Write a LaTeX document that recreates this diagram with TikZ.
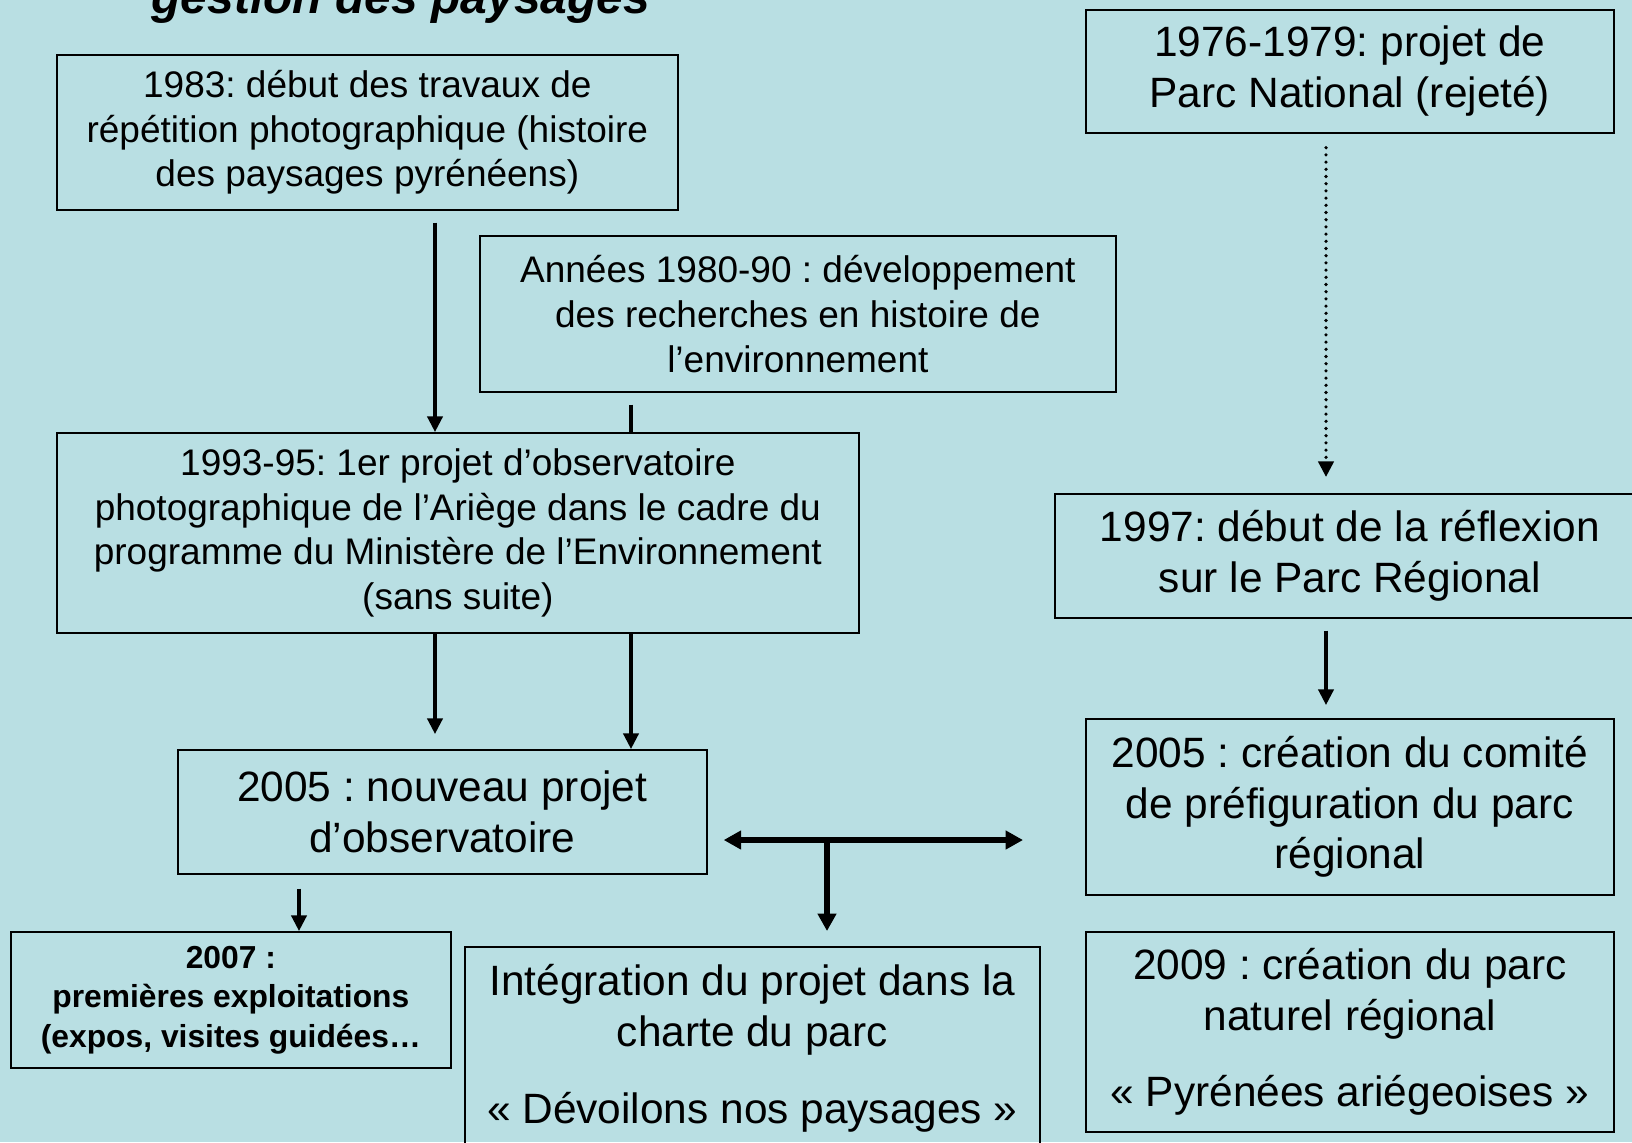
\documentclass[tikz,border=0pt]{standalone}
\usepackage{fontspec}
\setmainfont{Liberation Sans}
\usetikzlibrary{arrows.meta}
\definecolor{fond}{RGB}{185,223,227}
\frenchspacing

\tikzset{
  boite/.style={draw, line width=0.85pt, inner sep=0pt, align=center, anchor=north west},
  petit/.style={font=\fontsize{18.5}{22.4}\selectfont},
  grand/.style={font=\fontsize{21.2}{25.4}\selectfont},
  gras/.style={font=\fontsize{15.9}{19.75}\selectfont\bfseries},
  fl/.style={-{Triangle[width=7.6pt,length=7.8pt]}, line width=1.65pt},
  flgros/.style={line width=3.3pt},
  tete/.tip={Triangle[width=9pt,length=8.7pt]},
}

\begin{document}
\begin{tikzpicture}[x=0.5pt,y=-0.5pt]
\clip (0,0) rectangle (1632,1142);
\fill[fond] (0,0) rectangle (1632,1142);

% titre (coupe en haut)
\node[font=\fontsize{24}{28}\selectfont\bfseries\itshape, anchor=base west, inner sep=0pt] (titre) at (151,13) {gestion des paysages};

% colonne de gauche
\node[boite, petit, minimum width=310.5pt, minimum height=77.5pt] (A) at (56,54)
  {1983: d\'ebut des travaux de\\r\'ep\'etition photographique (histoire\\des paysages pyr\'en\'eens)};
\node[boite, petit, minimum width=318pt, minimum height=78pt] (B) at (479,235)
  {Ann\'ees 1980-90 : d\'eveloppement\\des recherches en histoire de\\l’environnement};
\node[boite, petit, minimum width=401pt, minimum height=100pt] (C) at (56,432)
  {1993-95: 1er projet d’observatoire\\photographique de l’Ari\`ege dans le cadre du\\programme du Minist\`ere de l’Environnement\\(sans suite)};
\node[boite, grand, minimum width=264.5pt, minimum height=62pt] (D) at (177,749)
  {2005 : nouveau projet\\d’observatoire};
\node[boite, gras, minimum width=220pt, minimum height=68pt] (E) at (10,931)
  {2007 :\\premi\`eres exploitations\\(expos, visites guid\'ees…};
\node[boite, grand, minimum width=287.5pt, minimum height=101.5pt] (F) at (464,946)
  {Int\'egration du projet dans la\\charte du parc\\[13pt]« D\'evoilons nos paysages »};

% colonne de droite
\node[boite, grand, minimum width=264pt, minimum height=61.5pt] (G) at (1085,9)
  {1976-1979: projet de\\Parc National (rejet\'e)};
\node[boite, grand, minimum width=295pt, minimum height=62pt] (H) at (1054,493)
  {1997: d\'ebut de la r\'eflexion\\sur le Parc R\'egional};
\node[boite, grand, minimum width=264pt, minimum height=88pt] (I) at (1085,718)
  {2005 : cr\'eation du comit\'e\\de pr\'efiguration du parc\\r\'egional};
\node[boite, grand, minimum width=264pt, minimum height=100pt] (J) at (1085,931)
  {2009 : cr\'eation du parc\\naturel r\'egional\\[13pt]« Pyr\'en\'ees ari\'egeoises »};

% reperes des fleches
\coordinate (xa) at (435,0);
\coordinate (xb) at (631,0);
\coordinate (xe) at (299,0);
\coordinate (xt) at (827,0);
\coordinate (xg) at (1326,0);
\coordinate (yt) at (0,840);

\draw[fl, shorten <=6pt] (xa |- A.south) -- (xa |- C.north);
\draw[line width=1.65pt, shorten <=6pt] (xb |- B.south) -- (xb |- C.north);
\draw[fl, shorten >=7.5pt] (xa |- C.south) -- (xa |- D.north);
\draw[fl] (xb |- C.south) -- (xb |- D.north);
\draw[fl, shorten <=7pt] (xe |- D.south) -- (xe |- E.north);

\draw[flgros, tete-tete, shorten <=8pt, shorten >=31pt] (D.east |- yt) -- (I.west |- yt);
\draw[flgros, -tete, shorten >=7.5pt] (xt |- yt) -- (xt |- F.north);

\draw[fl, line width=1.8pt, line cap=round, dash pattern=on 0pt off 3.6pt, shorten <=7pt, shorten >=8pt] (xg |- G.south) -- (xg |- H.north);
\draw[fl, shorten <=6pt, shorten >=6.5pt] (xg |- H.south) -- (xg |- I.north);

\end{tikzpicture}
\end{document}
